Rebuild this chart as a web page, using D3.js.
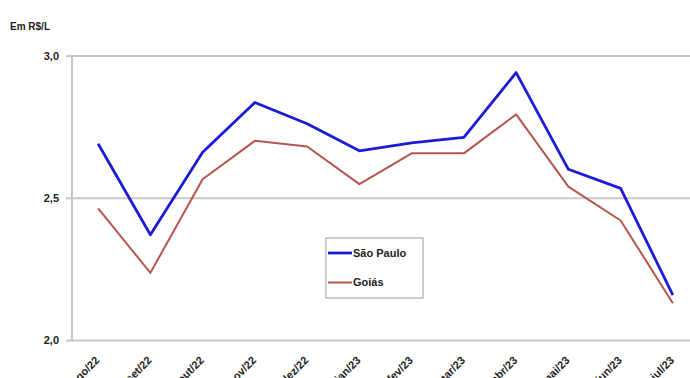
<!DOCTYPE html>
<html>
<head>
<meta charset="utf-8">
<script src="https://cdn.jsdelivr.net/npm/d3@7"></script>
<style>
  body { margin: 0; background: #fff; }
  svg { display: block; font-family: "Liberation Sans", Arial, sans-serif; }
</style>
</head>
<body>
<div id="chart"></div>
<script>
const months = ['ago/22', 'set/22', 'out/22', 'nov/22', 'dez/22', 'jan/23',
    'fev/23', 'mar/23', 'abr/23', 'mai/23', 'jun/23', 'jul/23']
const sao_paulo = [2.69, 2.37, 2.66, 2.835, 2.76, 2.665, 2.693, 2.712, 2.94, 2.60, 2.533, 2.158]
const goias = [2.463, 2.236, 2.565, 2.70, 2.68, 2.548, 2.656, 2.656, 2.793, 2.539, 2.42, 2.129]
const y_ticks = [2.0, 2.5, 3.0]

const width = 690, height = 378
const margin = ({ top: 55.5, right: -9, bottom: 38, left: 72 })

const svg = d3.select('#chart')
    .append('svg')
    .attr('width', width)
    .attr('height', height)

const x = d3.scaleBand()
    .domain(months)
    .range([margin.left, width - margin.right])
const y = d3.scaleLinear()
    .domain([2.0, 3.0])
    .range([height - margin.bottom, margin.top])

// grid + y axis
const yAxis = g => g
    .attr('transform', `translate(${margin.left},0)`)
    .call(d3.axisLeft(y)
        .tickValues(y_ticks)
        .tickSize(-(width - margin.left - margin.right))
        .tickPadding(13)
        .tickFormat(d => d3.format('.1f')(d).replace('.', ',')))
    .call(g => g.select('.domain').remove())
    .call(g => g.selectAll('.tick line')
        .attr('x1', -6)
        .attr('stroke', '#c8c8c8')
        .attr('stroke-width', 2))
    .call(g => g.selectAll('.tick text')
        .attr('fill', '#222')
        .attr('font-size', 11)
        .attr('font-weight', 'bold'))

svg.append('g').call(yAxis)

// left axis line
svg.append('line')
    .attr('x1', margin.left).attr('x2', margin.left)
    .attr('y1', y(3.0)).attr('y2', y(2.0))
    .attr('stroke', '#c8c8c8')
    .attr('stroke-width', 2)

const xAxis = g => g
    .attr('transform', `translate(0,${y(2.0)})`)
    .call(d3.axisBottom(x).tickSize(0).tickPadding(0))
    .call(g => g.select('.domain').remove())
    .call(g => g.selectAll('.tick text')
        .attr('text-anchor', 'end')
        .attr('dy', 0)
        .attr('transform', 'translate(2,21) rotate(-45)')
        .attr('fill', '#222')
        .attr('font-size', 11)
        .attr('font-weight', 'bold'))

svg.append('g').call(xAxis)

svg.append('text')
    .attr('x', 10)
    .attr('y', 30)
    .attr('font-size', 10)
    .attr('font-weight', 'bold')
    .attr('fill', '#222')
    .text('Em R$/L')

const line = d3.line()
    .x((d, i) => x(months[i]) + x.bandwidth() / 2)
    .y(d => y(d))

const series = [
    { name: 'São Paulo', values: sao_paulo, color: '#1c1cd6', w: 2.8 },
    { name: 'Goiás', values: goias, color: '#b5564e', w: 2 }
]

svg.selectAll('path.series')
    .data(series)
    .join('path')
    .attr('class', 'series')
    .attr('fill', 'none')
    .attr('stroke', d => d.color)
    .attr('stroke-width', d => d.w)
    .attr('stroke-linejoin', 'round')
    .attr('d', d => line(d.values))

// legend
const legend = svg.append('g').attr('transform', 'translate(326,238)')
legend.append('rect')
    .attr('width', 97)
    .attr('height', 60)
    .attr('fill', '#fff')
    .attr('stroke', '#9a9a9a')
    .attr('stroke-width', 1)

const items = legend.selectAll('g.item')
    .data(series)
    .join('g')
    .attr('class', 'item')
    .attr('transform', (d, i) => `translate(0,${15 + i * 29.5})`)
items.append('line')
    .attr('x1', 2).attr('x2', 26)
    .attr('stroke', d => d.color)
    .attr('stroke-width', d => d.w)
items.append('text')
    .attr('x', 27)
    .attr('dy', '0.35em')
    .attr('font-size', 11)
    .attr('font-weight', 'bold')
    .attr('fill', '#222')
    .text(d => d.name)
</script>
</body>
</html>
